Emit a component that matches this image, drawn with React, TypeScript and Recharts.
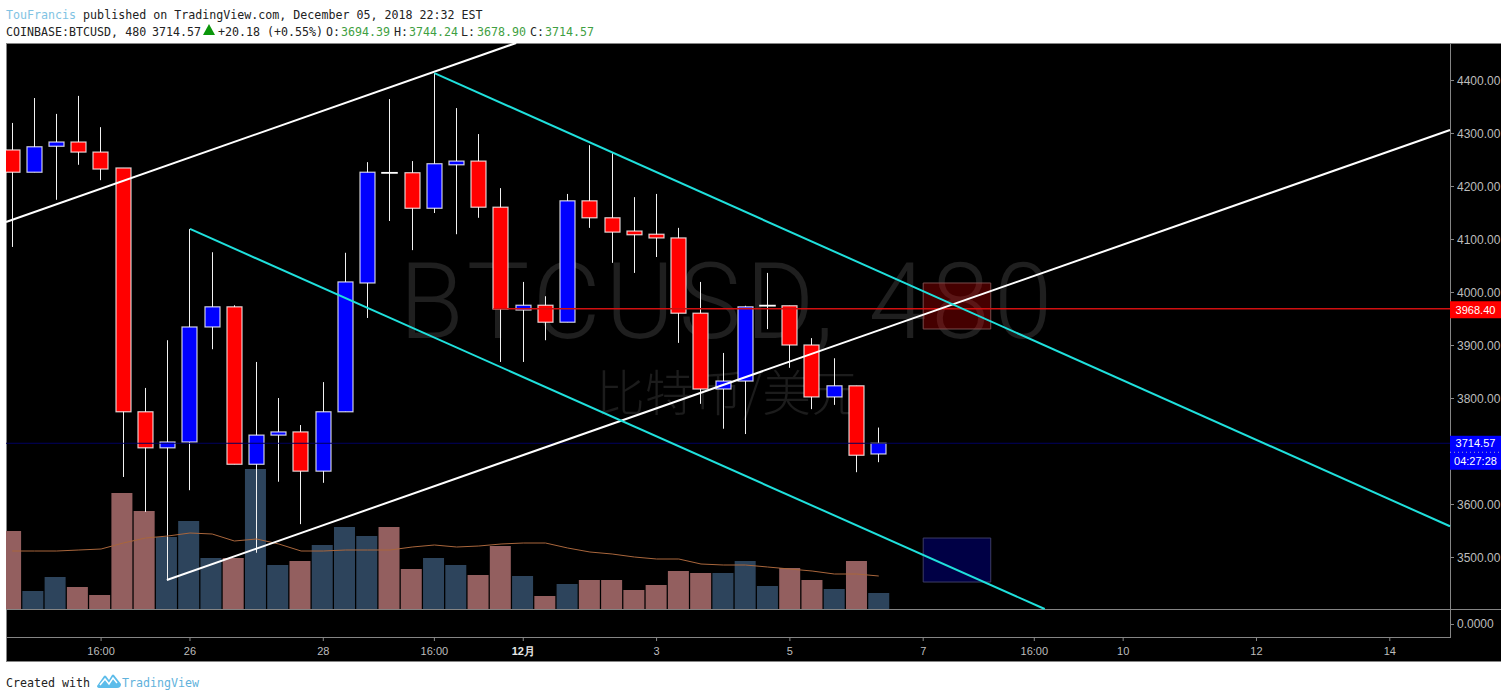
import {
  ComposedChart,
  Bar,
  Cell,
  Line,
  XAxis,
  YAxis,
  ReferenceLine,
  ReferenceArea,
} from 'recharts'

// bar index: 0 is the first 8h bar of the 26th, one index = 8 hours
const barIndex = [
  -8, -7, -6, -5, -4, -3, -2, -1, 0, 1, 2, 3, 4, 5, 6, 7, 8, 9, 10, 11, 12, 13, 14, 15, 16, 17, 18, 19, 20, 21, 22, 23,
  24, 25, 26, 27, 28, 29, 30, 31,
]
const opens = [
  4268, 4226, 4275, 4283, 4264, 4234, 3774, 3706, 3717, 3934, 3972, 3675, 3730, 3736, 3662, 3774, 4017, 4225, 4225,
  4158, 4240, 4247, 4160, 3966, 3975, 3943, 4172, 4140, 4115, 4109, 4102, 3960, 3817, 3832, 3974, 3974, 3900, 3802,
  3823, 3694.39,
]
const highs = [
  4319, 4366, 4336, 4370, 4311, 4234, 3819, 3909, 4119, 4075, 3975, 3868, 3800, 3749, 3830, 4074, 4245, 4364, 4247,
  4413, 4347, 4298, 4196, 4019, 3992, 4185, 4277, 4262, 4179, 4185, 4121, 4019, 3885, 3974, 4036, 3974, 3913, 3875,
  3823, 3744.24,
]
const lows = [
  4085, 4226, 4174, 4240, 4211, 3651, 3585, 3457, 3626, 3892, 3675, 3508, 3642, 3562, 3640, 3774, 3951, 4134, 4079,
  4149, 4109, 4140, 3868, 3868, 3909, 3943, 4121, 4055, 4036, 4066, 3904, 3789, 3742, 3732, 3930, 3857, 3779, 3787,
  3660, 3678.9,
]
const closes = [
  4226, 4274, 4283, 4264, 4232, 3774, 3706, 3717, 3934, 3972, 3675, 3730, 3736, 3662, 3774, 4019, 4226, 4224.6, 4158,
  4242, 4247, 4160, 3968, 3975, 3943, 4172, 4140, 4113, 4108, 4102, 3960, 3817, 3832, 3972, 3974.4, 3900, 3802, 3823,
  3692, 3714.57,
]
// no volume scale is printed, so these are in chart units
const volumes = [
  78, 18, 32, 22, 14, 116, 98, 72, 88, 51, 51, 140, 44, 48, 64, 82, 73, 82, 40, 51, 44, 34, 63, 33, 13, 25, 29, 29, 19,
  24, 38, 36, 36, 48, 23, 41, 29, 20, 48, 16,
]
const volumeMa = [
  58, 58, 58, 59, 60, 66, 71, 73, 76, 75, 68, 70, 65, 58, 58, 59, 59, 59, 62, 64, 62, 63, 65, 66, 66, 61, 57, 55, 52,
  50, 50, 45, 44, 44, 42, 40, 38, 35, 35, 33,
]

// 3700.00 is hidden behind the last price badge in the original
const priceTicks = [3500, 3600, 3800, 3900, 4000, 4100, 4200, 4300, 4400]
const timeTicks = [-4, 0, 6, 11, 15, 21, 27, 33, 38, 42, 48, 54]
const timeLabels = ['16:00', '26', '28', '16:00', '12月', '3', '5', '7', '16:00', '10', '12', '14']

const lastPrice = 3714.57
const resistance = 3968.4

const data = barIndex.map((i, n) => ({
  i,
  open: opens[n],
  high: highs[n],
  low: lows[n],
  close: closes[n],
  volume: volumes[n],
  volumeMa: volumeMa[n],
}))

const uiFont = '"Liberation Sans", Arial, sans-serif'
const monoFont = '"DejaVu Sans Mono", monospace'

function Candle({ x, y, width, height, payload }: any) {
  const { open, high, low, close } = payload
  const k = height / (high - low)
  const top = y + (high - Math.max(open, close)) * k
  const bodyH = Math.abs(open - close) * k
  const cx = Math.round(x + width / 2) - 0.5
  const flat = bodyH < 1
  return (
    <g>
      <line x1={cx} x2={cx} y1={y} y2={y + height} stroke="#f2f2f2" strokeWidth={1} />
      <rect
        x={cx - 7.5}
        y={top}
        width={15}
        height={bodyH}
        fill={close >= open ? '#0000ff' : '#ff0000'}
        stroke="#ffffff"
        strokeOpacity={flat ? 1 : 0.8}
        strokeWidth={flat ? 1.6 : 1.2}
      />
    </g>
  )
}

function TimeTick({ x, y, payload }: any) {
  const label = timeLabels[timeTicks.indexOf(payload.value)]
  return (
    <g>
      <line x1={x} x2={x} y1={y + 28} y2={y + 32} stroke="#888" />
      <text
        x={x}
        y={y + 46}
        textAnchor="middle"
        fill={label === '12月' ? '#e6e6e6' : '#bdbdbd'}
        fontSize={11}
        fontWeight={label === '12月' ? 700 : 400}
        fontFamily={uiFont}
      >
        {label}
      </text>
    </g>
  )
}

function PriceTick({ x, y, payload }: any) {
  return (
    <g>
      <line x1={x} x2={x + 4} y1={y + 0.5} y2={y + 0.5} stroke="#888" />
      <text x={x + 7} y={y + 5} fill="#bdbdbd" fontSize={12} fontFamily={uiFont}>
        {payload.value.toFixed(2)}
      </text>
    </g>
  )
}

function RedBadge({ viewBox }: any) {
  const { x, y, width } = viewBox
  const left = x + width
  return (
    <g>
      <rect x={left} y={y - 7.5} width={51} height={17} fill="#ff0000" />
      <text x={left + 25.5} y={y + 5} textAnchor="middle" fill="#fff" fontSize={11} fontFamily={uiFont}>
        {resistance.toFixed(2)}
      </text>
    </g>
  )
}

function BlueBadge({ viewBox }: any) {
  const { x, y, width } = viewBox
  const left = x + width
  return (
    <g>
      <rect x={left} y={y - 7.5} width={51} height={34} fill="#0000ff" />
      <line x1={left} x2={left + 51} y1={y + 9} y2={y + 9} stroke="#aab" strokeDasharray="1 3" />
      <text x={left + 25.5} y={y + 4} textAnchor="middle" fill="#fff" fontSize={11} fontFamily={uiFont}>
        {lastPrice.toFixed(2)}
      </text>
      <text x={left + 25.5} y={y + 22} textAnchor="middle" fill="#fff" fontSize={11} fontFamily={uiFont}>
        04:27:28
      </text>
    </g>
  )
}

function Rule({ style }: { style: React.CSSProperties }) {
  return <div style={{ position: 'absolute', background: '#858585', ...style }} />
}

const monoText: React.CSSProperties = {
  position: 'absolute',
  fontFamily: monoFont,
  fontSize: 11.65,
  lineHeight: '16px',
  color: '#222',
  whiteSpace: 'pre',
}

const green = '#3f9f43'
const quoteLine: [string, number, string?][] = [
  ['COINBASE:BTCUSD, 480', 6],
  ['3714.57', 152],
  ['+20.18', 218],
  ['(+0.55%)', 267],
  ['O:', 326],
  ['3694.39', 341, green],
  ['H:', 394],
  ['3744.24', 409, green],
  ['L:', 461],
  ['3678.90', 477, green],
  ['C:', 530],
  ['3714.57', 545, green],
]

function Header() {
  return (
    <>
      <div style={{ ...monoText, left: 6, top: 7 }}>
        <span style={{ color: '#7fc3e3' }}>TouFrancis</span> published on TradingView.com, December 05, 2018 22:32 EST
      </div>
      {quoteLine.map(([text, left, color]) => (
        <div key={left} style={{ ...monoText, left, top: 24, color: color ?? '#222' }}>
          {text}
        </div>
      ))}
      <svg width={12} height={11} style={{ position: 'absolute', left: 203, top: 24 }}>
        <path d="M6 0 L12 11 L0 11 Z" fill="#0b960b" />
      </svg>
    </>
  )
}

function Footer() {
  return (
    <div style={{ ...monoText, left: 6, top: 675 }}>
      Created with
      <svg width={24} height={16} viewBox="0 0 24 16" style={{ position: 'absolute', left: 91, top: -2 }}>
        <path
          d="M0 13 L7 3 Q8 2 9 3 L12 7 L15 2 Q16 1 17 2 L24 11 Q24 15 20 15 L3 15 Q0 15 0 13 Z"
          fill="#5cbcea"
        />
        <path d="M3 12 L8 6 L12 11 L16 5 L20 10" fill="none" stroke="#fff" strokeWidth={1.5} />
      </svg>
      <span style={{ position: 'absolute', left: 116, top: 0, color: '#5fb2dc' }}>TradingView</span>
    </div>
  )
}

export default function App() {
  return (
    <div style={{ position: 'absolute', left: 0, top: 0, width: 1508, height: 699, background: '#fff', overflow: 'hidden' }}>
      <Header />
      <div style={{ position: 'absolute', left: 6, top: 43, width: 1495, height: 619, background: '#000' }} />
      {/* watermark sits behind the chart svg */}
      <div
        style={{
          position: 'absolute',
          left: 6,
          width: 1444,
          top: 254,
          textAlign: 'center',
          fontFamily: 'Roboto, sans-serif',
          fontWeight: 300,
          fontSize: 105,
          lineHeight: '98px',
          color: '#1f1f1f',
          letterSpacing: 4.5,
        }}
      >
        BTCUSD, 480
      </div>
      <div
        style={{
          position: 'absolute',
          left: 6,
          width: 1444,
          top: 355,
          textAlign: 'center',
          fontFamily: '"Noto Sans CJK SC", sans-serif',
          fontWeight: 300,
          fontSize: 49,
          lineHeight: '70px',
          color: '#1c1c1c',
        }}
      >
        比特币/美元
      </div>
      <Rule style={{ left: 6, top: 43, width: 1495, height: 1 }} />
      <Rule style={{ left: 6, top: 43, width: 1, height: 619 }} />
      <Rule style={{ left: 6, top: 661, width: 1495, height: 1 }} />
      <Rule style={{ left: 1450, top: 43, width: 1, height: 594 }} />
      <Rule style={{ left: 6, top: 609, width: 1495, height: 1 }} />
      <Rule style={{ left: 6, top: 637, width: 1445, height: 1 }} />
      <Rule style={{ left: 1450, top: 624, width: 4, height: 1 }} />
      <div
        style={{
          position: 'absolute',
          left: 1457,
          top: 617,
          fontFamily: uiFont,
          fontSize: 12,
          lineHeight: '14px',
          color: '#bdbdbd',
        }}
      >
        0.0000
      </div>

      <div style={{ position: 'absolute', left: 0, top: 0 }}>
        <ComposedChart
          width={1508}
          height={699}
          data={data}
          margin={{ top: 43, right: 7, bottom: 37, left: 6 }}
        >
          <XAxis
            xAxisId="time"
            dataKey="i"
            type="number"
            domain={[-8.28, 56.71]}
            allowDataOverflow
            ticks={timeTicks}
            interval={0}
            height={53}
            axisLine={false}
            tickLine={false}
            tickSize={0}
            tickMargin={0}
            tick={<TimeTick />}
          />
          <XAxis xAxisId="vol" dataKey="i" type="number" domain={[-8.19, 56.68]} allowDataOverflow hide />
          <YAxis
            yAxisId="price"
            orientation="right"
            domain={[3401.9, 4469.8]}
            allowDataOverflow
            ticks={priceTicks}
            interval={0}
            width={51}
            axisLine={false}
            tickLine={false}
            tickSize={0}
            tickMargin={0}
            tick={<PriceTick />}
          />
          <YAxis yAxisId="volume" domain={[0, 566]} hide />

          <ReferenceLine xAxisId="time" yAxisId="price" y={lastPrice} stroke="#000060" label={<BlueBadge />} />

          <Bar xAxisId="vol" yAxisId="volume" dataKey="volume" barSize={21} isAnimationActive={false}>
            {data.map((d) => (
              <Cell key={d.i} fill={d.close >= d.open ? '#2d445c' : '#935f5f'} />
            ))}
          </Bar>
          <Line
            xAxisId="time"
            yAxisId="volume"
            dataKey="volumeMa"
            stroke="#a9663c"
            strokeWidth={1}
            dot={false}
            isAnimationActive={false}
          />
          <Bar
            xAxisId="time"
            yAxisId="price"
            dataKey={(d: any) => [d.low, d.high]}
            barSize={15}
            shape={<Candle />}
            isAnimationActive={false}
          />

          <ReferenceArea
            xAxisId="time"
            yAxisId="price"
            x1={33}
            x2={36.04}
            y1={3930.2}
            y2={4017}
            fill="#ff0000"
            fillOpacity={0.27}
            stroke="#7a4a4a"
          />
          <ReferenceArea
            xAxisId="time"
            yAxisId="price"
            x1={33}
            x2={36.04}
            y1={3452.8}
            y2={3535.8}
            fill="#0000ff"
            fillOpacity={0.27}
            stroke="#3c3c66"
          />
          <ReferenceLine
            xAxisId="time"
            yAxisId="price"
            stroke="#d01010"
            strokeWidth={1.5}
            segment={[
              { x: 13.65, y: resistance },
              { x: 56.71, y: resistance },
            ]}
          />
          <ReferenceLine xAxisId="time" yAxisId="price" y={resistance} stroke="none" label={<RedBadge />} />
          <ReferenceLine
            xAxisId="time"
            yAxisId="price"
            stroke="#ffffff"
            strokeWidth={2}
            segment={[
              { x: -8.28, y: 4132 },
              { x: 14.68, y: 4469.8 },
            ]}
          />
          <ReferenceLine
            xAxisId="time"
            yAxisId="price"
            stroke="#ffffff"
            strokeWidth={2}
            segment={[
              { x: -1.04, y: 3456.6 },
              { x: 56.71, y: 4305.7 },
            ]}
          />
          <ReferenceLine
            xAxisId="time"
            yAxisId="price"
            stroke="#1fe0dc"
            strokeWidth={2}
            segment={[
              { x: 0, y: 4119 },
              { x: 38.47, y: 3401.9 },
            ]}
          />
          <ReferenceLine
            xAxisId="time"
            yAxisId="price"
            stroke="#1fe0dc"
            strokeWidth={2}
            segment={[
              { x: 11, y: 4413 },
              { x: 56.71, y: 3558 },
            ]}
          />
        </ComposedChart>
      </div>
      <Footer />
    </div>
  )
}
